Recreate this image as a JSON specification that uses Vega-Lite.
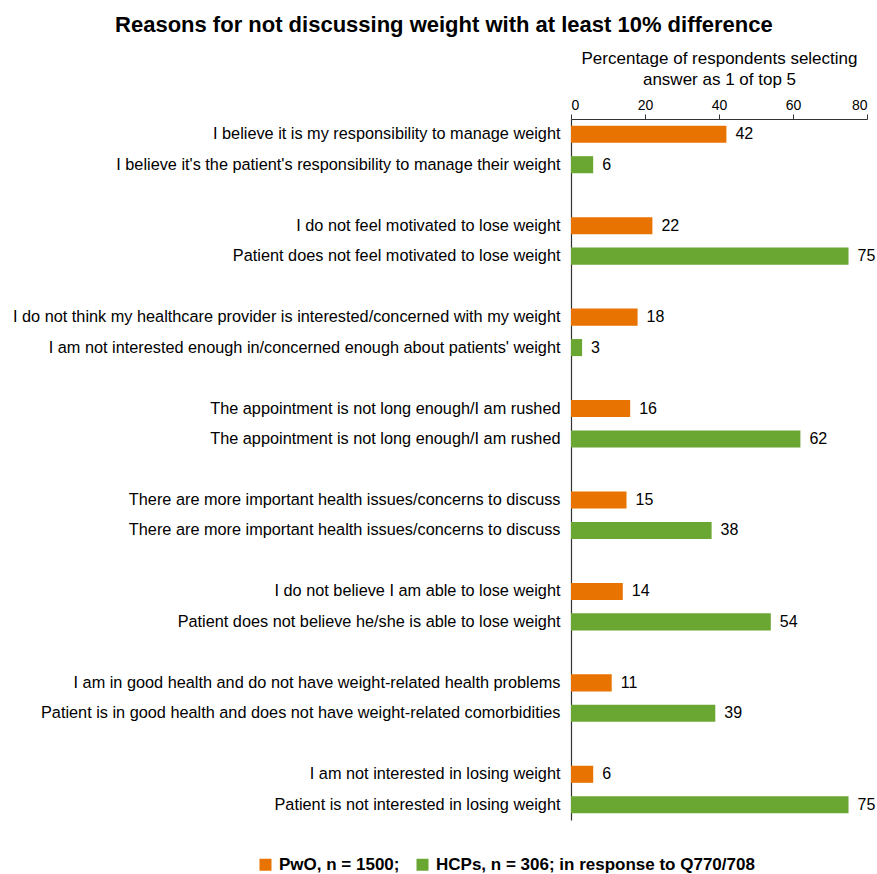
{
  "$schema": "https://vega.github.io/schema/vega-lite/v6.json",
  "width": 296,
  "height": 701,
  "padding": {"left": 12, "top": 14, "right": 0, "bottom": 0},
  "config": {
    "font": "Liberation Sans",
    "view": {"stroke": null},
    "axis": {"labelColor": "#000", "titleColor": "#000", "domainColor": "#333", "tickColor": "#333"}
  },
  "title": {
    "text": "Reasons for not discussing weight with at least 10% difference",
    "fontSize": 22,
    "fontWeight": "bold",
    "color": "#000",
    "anchor": "middle",
    "frame": "bounds",
    "offset": 12
  },
  "data": {
    "values": [
      {"key": "01|I believe it is my responsibility to manage weight", "group": "PwO, n = 1500;", "value": 42},
      {"key": "02|I believe it's the patient's responsibility to manage their weight", "group": "HCPs, n = 306; in response to Q770/708", "value": 6},
      {"key": "03|I do not feel motivated to lose weight", "group": "PwO, n = 1500;", "value": 22},
      {"key": "04|Patient does not feel motivated to lose weight", "group": "HCPs, n = 306; in response to Q770/708", "value": 75},
      {"key": "05|I do not think my healthcare provider is interested/concerned with my weight", "group": "PwO, n = 1500;", "value": 18},
      {"key": "06|I am not interested enough in/concerned enough about patients' weight", "group": "HCPs, n = 306; in response to Q770/708", "value": 3},
      {"key": "07|The appointment is not long enough/I am rushed", "group": "PwO, n = 1500;", "value": 16},
      {"key": "08|The appointment is not long enough/I am rushed", "group": "HCPs, n = 306; in response to Q770/708", "value": 62},
      {"key": "09|There are more important health issues/concerns  to discuss", "group": "PwO, n = 1500;", "value": 15},
      {"key": "10|There are more important health issues/concerns to discuss", "group": "HCPs, n = 306; in response to Q770/708", "value": 38},
      {"key": "11|I do not believe I am able to lose weight", "group": "PwO, n = 1500;", "value": 14},
      {"key": "12|Patient does not believe he/she is able to lose weight", "group": "HCPs, n = 306; in response to Q770/708", "value": 54},
      {"key": "13|I am in good health and do not have weight-related health problems", "group": "PwO, n = 1500;", "value": 11},
      {"key": "14|Patient is in good health and does not have weight-related comorbidities", "group": "HCPs, n = 306; in response to Q770/708", "value": 39},
      {"key": "15|I am not interested in losing weight", "group": "PwO, n = 1500;", "value": 6},
      {"key": "16|Patient is not interested in losing weight", "group": "HCPs, n = 306; in response to Q770/708", "value": 75}
    ]
  },
  "encoding": {
    "y": {
      "field": "key",
      "type": "nominal",
      "scale": {
        "domain": [
          "01|I believe it is my responsibility to manage weight",
          "02|I believe it's the patient's responsibility to manage their weight",
          "s1|",
          "03|I do not feel motivated to lose weight",
          "04|Patient does not feel motivated to lose weight",
          "s2|",
          "05|I do not think my healthcare provider is interested/concerned with my weight",
          "06|I am not interested enough in/concerned enough about patients' weight",
          "s3|",
          "07|The appointment is not long enough/I am rushed",
          "08|The appointment is not long enough/I am rushed",
          "s4|",
          "09|There are more important health issues/concerns  to discuss",
          "10|There are more important health issues/concerns to discuss",
          "s5|",
          "11|I do not believe I am able to lose weight",
          "12|Patient does not believe he/she is able to lose weight",
          "s6|",
          "13|I am in good health and do not have weight-related health problems",
          "14|Patient is in good health and does not have weight-related comorbidities",
          "s7|",
          "15|I am not interested in losing weight",
          "16|Patient is not interested in losing weight"
        ],
        "paddingInner": 0.44,
        "paddingOuter": 0.22
      },
      "axis": {
        "title": null,
        "labelExpr": "split(datum.value, '|')[1]",
        "labelFontSize": 16.3,
        "labelLimit": 700,
        "labelPadding": 11,
        "ticks": false,
        "domain": true,
        "domainWidth": 1.2
      }
    }
  },
  "layer": [
    {
      "mark": {"type": "bar"},
      "encoding": {
        "x": {
          "field": "value",
          "type": "quantitative",
          "scale": {"domain": [0, 80], "nice": false},
          "axis": {
            "orient": "top",
            "values": [0, 20, 40, 60, 80],
            "grid": false,
            "tickSize": 5,
            "labelFontSize": 14,
            "labelPadding": 2,
            "title": ["Percentage of respondents selecting", "answer as 1 of top 5"],
            "titleFontSize": 17,
            "titleFontWeight": "normal",
            "titlePadding": 10,
            "titleLineHeight": 21
          }
        },
        "color": {
          "field": "group",
          "type": "nominal",
          "scale": {
            "domain": ["PwO, n = 1500;", "HCPs, n = 306; in response to Q770/708"],
            "range": ["#E97300", "#6AA632"]
          },
          "legend": {
            "title": null,
            "orient": "none",
            "direction": "horizontal",
            "legendX": -314,
            "legendY": 737,
            "symbolType": "square",
            "symbolSize": 144,
            "symbolStrokeWidth": 0,
            "labelFontSize": 17,
            "labelFontWeight": "bold",
            "labelColor": "#000",
            "labelLimit": 500,
            "columnPadding": 14,
            "labelOffset": 5
          }
        }
      }
    },
    {
      "mark": {"type": "text", "align": "left", "baseline": "middle", "dx": 9, "fontSize": 16, "color": "#000"},
      "encoding": {
        "x": {"field": "value", "type": "quantitative"},
        "text": {"field": "value", "type": "quantitative"}
      }
    }
  ]
}
